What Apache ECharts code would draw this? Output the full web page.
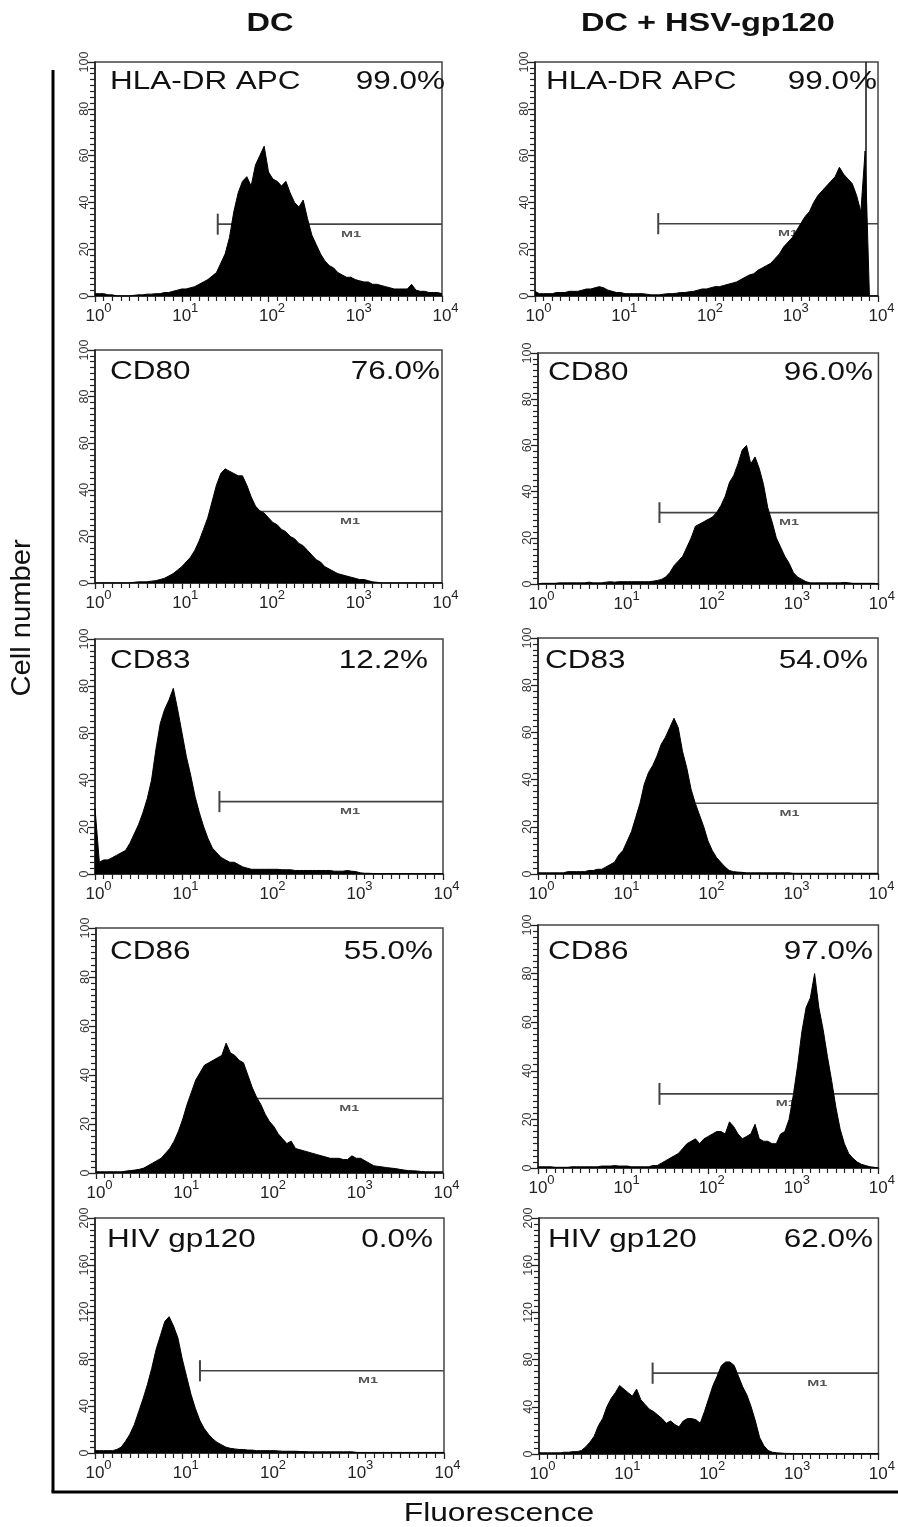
<!DOCTYPE html>
<html><head><meta charset="utf-8">
<script src="https://cdn.jsdelivr.net/npm/echarts@6/dist/echarts.min.js"></script>
<style>html,body{margin:0;padding:0;background:#fff}#c{width:898px;height:1527px}</style>
</head><body><div id="c"></div>
<script>
// ---- channel bins (log10 of fluorescence) ----
const bins = [
 0,0.05,0.1,0.15,0.2,0.25,0.3,0.35,0.4,0.45,
 0.5,0.55,0.6,0.65,0.7,0.75,0.8,0.85,0.9,0.95,
 1,1.05,1.1,1.15,1.2,1.25,1.3,1.35,1.4,1.45,
 1.5,1.55,1.6,1.65,1.7,1.75,1.8,1.85,1.9,1.95,
 2,2.05,2.1,2.15,2.2,2.25,2.3,2.35,2.4,2.45,
 2.5,2.55,2.6,2.65,2.7,2.75,2.8,2.85,2.9,2.95,
 3,3.05,3.1,3.15,3.2,3.25,3.3,3.35,3.4,3.45,
 3.5,3.55,3.6,3.65,3.7,3.75,3.8,3.85,3.9,3.95,
 4];
const xTickExp = ['0','1','2','3','4'];

// ---- column / row labels ----
const columns = ['DC', 'DC + HSV-gp120'];
const markers = ['HLA-DR APC', 'CD80', 'CD83', 'CD86', 'HIV gp120'];
const pctDC  = ['99.0%', '76.0%', '12.2%', '55.0%', '0.0%'];
const pctHSV = ['99.0%', '96.0%', '54.0%', '97.0%', '62.0%'];
const yMaxRow = [100, 100, 100, 100, 200];

// ---- histogram counts ----
const dcHLA = [
 1,1,1,0.5,0.5,0,0,0,0,0.3,
 0.5,0.5,0.8,0.8,1,1,1.5,1.5,2,2.5,
 3,3,3.5,4,5,6,7,8.5,10,14,
 18,25,36,44,49,51,47,56,60,64,
 53,50,49,47,49,44,40,38,41,33,
 26,22,18,15,13,12,10,9,8,8,
 7,6.5,6,6,5,5,4.5,4,3.5,3,
 3,3,3,5,2.5,2,2,1.5,1.5,1.5,
 1];
const hsvHLA = [
 2,1,1,1,1,1.5,1.5,1.5,2,2,
 2,2.5,3,3,3.5,4,3.5,2.5,2,1.5,
 1.5,1,1,1,1,1,0.8,0.5,0.5,0.5,
 0.8,1,1,1.2,1.5,1.5,1.8,2,2.5,3,
 3,3.5,4,4,4.5,5,5.5,6,7,8,
 9,9.5,11,12,13,14,16,18,21,23,
 25,28,31,34,36,40,43,45,47,49,
 51,55,52,50,48,43,36,62,0,0,
 0];
const dcCD80 = [
 0,0,0,0,0,0,0,0,0,0.3,
 0.5,0.5,0.5,0.8,1,1.5,2,3,4,5.5,
 7,9,11,14,18,23,28,35,42,47,
 49,48,47,46,46,42,37,33,31,30,
 28,26,25,23,22,20,19,17,16,14,
 12,10,9,7,6,5,4,3.5,3,2.5,
 2,1.5,1.5,1,0.5,0.3,0,0,0,0,
 0,0,0,0,0,0,0,0,0,0,
 0];
const hsvCD80 = [
 0,0.3,0.3,0.3,0.3,0.5,0.5,0.5,0.5,0.5,
 0.5,0.5,0.8,0.5,0.5,0.5,0.8,1,0.8,1,
 1,1,1,1,1,1,1,1.2,1.5,2,
 3,5,8,10,12,16,20,25,26,27,
 28,29,31,34,38,44,47,52,58,60,
 52,55,50,43,33,27,20,16,12,9,
 5,3,2,1,0.5,0.5,0.5,0.5,0.5,0.5,
 0.5,0.5,0.7,0.5,0.3,0.3,0.3,0.3,0.3,0.3,
 0];
const dcCD83 = [
 28,5,6,6,7,8,9,10,13,17,
 21,26,32,40,53,64,70,74,79,70,
 60,50,42,33,26,20,15,11,9,7,
 6,5,5,4,3,2.5,2,2,2,2,
 2,2,2,1.8,1.8,1.8,1.5,1.5,1.5,1.5,
 1.5,1.5,1.5,1.5,1.5,1.2,1.2,1.2,1.5,1.2,
 1,0.5,0.3,0.3,0.2,0.2,0.2,0.2,0.2,0.2,
 0.2,0.2,0.2,0.2,0.2,0.2,0.2,0.2,0.2,0.2,
 0.2];
const hsvCD83 = [
 0.5,0.5,0.5,0.5,0.5,0.5,0.5,1,1,1,
 1,1,1.5,1.5,2,2,3,4,5,8,
 10,14,18,24,30,38,43,46,50,55,
 58,62,66,62,52,45,36,30,25,20,
 14,10,7,5,3,1.5,1,0.8,0.7,0.5,
 0.5,0.5,0.5,0.5,0.5,0.5,0.5,0.5,0.5,0.5,
 0.3,0.3,0.3,0.3,0.3,0.3,0.3,0.3,0.3,0.3,
 0.3,0.3,0.3,0.3,0.3,0.3,0.3,0.3,0.3,0.3,
 0.3];
const dcCD86 = [
 0.5,0.5,0.5,0.5,0.5,0.5,0.5,0.8,1,1.2,
 1.5,2,3,4,5,6,8,10,13,17,
 22,28,33,38,41,44,45,46,47,48,
 53,49,48,46,45,40,35,31,28,24,
 21,19,16,14,12,13,10,9.5,9,8.5,
 8,7.5,7,6.5,6,6,6,5.5,5.5,7,
 6,6,5,4,3,2.7,2.5,2.2,2,1.8,
 1.5,1.2,1,0.9,0.8,0.6,0.5,0.5,0.5,0.5,
 0.5];
const hsvCD86 = [
 0.5,0.5,0.5,0.5,0.3,0.3,0.3,0.3,0.5,0.5,
 0.5,0.5,0.5,0.5,0.5,0.8,0.8,0.8,1,0.8,
 0.8,0.8,0.5,0.5,0.5,0.5,0.5,1,1,2,
 3,4,5,6,8,10,11,12,10,12,
 13,14,15,15,14,19,17,14,12,13,
 14,18,12,11,11,10,10,14,15,20,
 30,42,56,66,70,80,66,57,46,36,
 25,16,10,6,4,2.5,1.5,1,0.5,0.3,
 0];
const dcGP120 = [
 2,2,2,2,2,3,5,10,16,24,
 35,46,58,72,88,100,112,116,108,98,
 80,65,50,38,28,21,16,12,9,7,
 5,4,3.5,3,3,2.5,2.5,2,2,2,
 2,2,1.8,1.5,1.5,1.5,1.5,1.2,1.2,1,
 1,1,1,1,1,1,1,1,1,1,
 0.5,0.5,0.5,0.5,0.5,0.5,0.5,0.5,0.5,0.5,
 0.5,0.5,0.5,0.5,0.5,0.5,0.5,0.5,0.5,0.5,
 0.5];
const hsvGP120 = [
 1,1,1,1,1,1,1.5,1.5,2,2,
 3,6,10,15,24,30,40,47,52,58,
 55,52,49,55,46,42,38,36,33,30,
 26,28,25,23,28,30,30,29,26,36,
 47,58,66,75,78,78,75,66,57,50,
 40,28,14,7,3,1.5,1,0.8,0.5,0.5,
 0.3,0.3,0.3,0.3,0.3,0.3,0.3,0.3,0.3,0.3,
 0.3,0.3,0.3,0.3,0.3,0.3,0.3,0.3,0.3,0.3,
 0.3];

// ---- M1 gate (start, level) and M1 label x ----
const gateStart = [1.415, 1.437, 1.55, 1.427, 1.43, 1.45, 1.55, 1.427, 1.203, 1.339];
const gateLevel = [30.7, 30.9, 30.7, 30.9, 30.8, 30.0, 30.4, 30.5, 70, 68.5];
const gateLabelX = [2.95, 2.95, 2.94, 2.95, 2.93, 2.96, 2.92, 2.91, 3.13, 3.28];
const offScaleChannel = [null, 3.86, null, null, null, null, null, null, null, null];

// ---- layout (pixels) ----
const panelRects = [
 [95, 62, 347, 234], [535, 62, 343, 234],
 [95, 350, 347, 233], [538, 353, 341, 231],
 [95, 639, 348, 235], [538, 638, 340, 236],
 [96, 928, 347, 245], [538, 925, 342, 243],
 [95, 1218, 349, 235], [539, 1218, 341, 236]
];
const nameX = [110, 546, 110, 548, 110, 545, 110, 548, 107, 548];
const pctX  = [445, 877, 440, 873, 428, 868, 433, 873, 433, 873];
const textY = [81.5, 81.5, 372, 372.5, 661, 661, 952, 952, 1240, 1240];

const hists = [dcHLA, hsvHLA, dcCD80, hsvCD80, dcCD83, hsvCD83, dcCD86, hsvCD86, dcGP120, hsvGP120];

const FONT = "'Liberation Sans', Arial, Helvetica, sans-serif";
const chart = echarts.init(document.getElementById('c'), null, {renderer: 'canvas'});

const grids = [], xAxes = [], yAxes = [], series = [], graphics = [];
for (let i = 0; i < 10; i++) {
  const r = Math.floor(i / 2), c = i % 2;
  const [l, t, w, h] = panelRects[i];
  const ymax = yMaxRow[r];
  grids.push({left: l, top: t, width: w, height: h, show: true,
    borderColor: '#444', borderWidth: 1.5, backgroundColor: 'transparent'});
  xAxes.push({
    type: 'value', gridIndex: i, min: 0, max: 4, interval: 1,
    axisLine: {show: true, onZero: false, lineStyle: {color: '#222', width: 1.6}},
    axisTick: {show: true, length: 6, lineStyle: {color: '#222', width: 1.3}},
    minorTick: {show: true, splitNumber: 10, length: 5, lineStyle: {color: '#222', width: 1.2}},
    splitLine: {show: false}, minorSplitLine: {show: false},
    axisLabel: {
      margin: 6, color: '#222', fontFamily: FONT,
      formatter: v => '{b|10}{s|' + xTickExp[Math.round(v)] + '}',
      rich: {
        b: {fontSize: 17, fontFamily: FONT, color: '#222', verticalAlign: 'bottom', padding: [0, 0, 0, 7]},
        s: {fontSize: 13, fontFamily: FONT, color: '#222', verticalAlign: 'bottom', padding: [0, 0, 10, 0]}
      }
    }
  });
  yAxes.push({
    type: 'value', gridIndex: i, min: 0, max: ymax, interval: ymax / 5,
    axisLine: {show: true, lineStyle: {color: '#222', width: 1.6}},
    axisTick: {show: true, length: 7, lineStyle: {color: '#222', width: 1.3}},
    minorTick: {show: true, splitNumber: 8, length: 5, lineStyle: {color: '#222', width: 1.2}},
    splitLine: {show: false}, minorSplitLine: {show: false},
    axisLabel: {rotate: 90, fontSize: 12.5, margin: 4, color: '#333', fontFamily: FONT}
  });
  const gs = gateStart[i], gl = gateLevel[i], cap = ymax * 0.045;
  series.push({type: 'line', xAxisIndex: i, yAxisIndex: i, z: 2, silent: true, symbol: 'none',
    data: [[gs, gl], [4, gl]], lineStyle: {color: '#444', width: 1.6}});
  series.push({type: 'line', xAxisIndex: i, yAxisIndex: i, z: 2, silent: true, symbol: 'none',
    data: [[gs, gl - cap], [gs, gl + cap]], lineStyle: {color: '#444', width: 2}});
  const hs = {type: 'line', xAxisIndex: i, yAxisIndex: i, z: 5, silent: true, symbol: 'none',
    data: bins.map((b, k) => [b, hists[i][k]]),
    lineStyle: {color: '#000', width: 1}, areaStyle: {color: '#000', opacity: 1}};
  if (offScaleChannel[i] !== null) {
    hs.markLine = {silent: true, symbol: 'none', label: {show: false},
      lineStyle: {color: '#111', width: 1.5, type: 'solid'},
      data: [{xAxis: offScaleChannel[i]}]};
  }
  series.push(hs);

  const pct = c === 0 ? pctDC[r] : pctHSV[r];
  graphics.push({type: 'text', x: nameX[i], y: textY[i], scaleX: 1.21, z: 10,
    style: {text: markers[r], font: '26px ' + FONT, fill: '#111', textAlign: 'left', textVerticalAlign: 'middle'}});
  graphics.push({type: 'text', x: pctX[i], y: textY[i], scaleX: 1.21, z: 10,
    style: {text: pct, font: '26px ' + FONT, fill: '#111', textAlign: 'right', textVerticalAlign: 'middle'}});
}

// column titles
graphics.push({type: 'text', x: 270, y: 24, scaleX: 1.3,
  style: {text: columns[0], font: 'bold 25px ' + FONT, fill: '#111', textAlign: 'center', textVerticalAlign: 'middle'}});
graphics.push({type: 'text', x: 708, y: 24, scaleX: 1.3,
  style: {text: columns[1], font: 'bold 25px ' + FONT, fill: '#111', textAlign: 'center', textVerticalAlign: 'middle'}});
// axis titles
graphics.push({type: 'text', x: 499, y: 1514, scaleX: 1.22,
  style: {text: 'Fluorescence', font: '26px ' + FONT, fill: '#111', textAlign: 'center', textVerticalAlign: 'middle'}});
graphics.push({type: 'text', x: 23, y: 618, rotation: Math.PI / 2, scaleX: 1.08,
  style: {text: 'Cell number', font: '27px ' + FONT, fill: '#111', textAlign: 'center', textVerticalAlign: 'middle'}});
// L-shaped outer axes
graphics.push({type: 'line', shape: {x1: 53, y1: 70, x2: 53, y2: 1492}, style: {stroke: '#000', lineWidth: 3}});
graphics.push({type: 'line', shape: {x1: 51.5, y1: 1492, x2: 898, y2: 1492}, style: {stroke: '#000', lineWidth: 3}});

chart.setOption({
  animation: false,
  backgroundColor: '#fff',
  grid: grids, xAxis: xAxes, yAxis: yAxes, series: series,
  graphic: graphics
});

// M1 gate labels, positioned through the grid's own coordinate system
const m1Labels = [];
for (let i = 0; i < 10; i++) {
  const p = chart.convertToPixel({gridIndex: i}, [gateLabelX[i], gateLevel[i]]);
  m1Labels.push({type: 'text', x: p[0], y: p[1] + 10, scaleX: 1.6, z: 1,
    style: {text: 'M1', font: 'bold 9px ' + FONT, fill: '#555', textAlign: 'center', textVerticalAlign: 'middle'}});
}
chart.setOption({graphic: graphics.concat(m1Labels)});
</script>
</body></html>
